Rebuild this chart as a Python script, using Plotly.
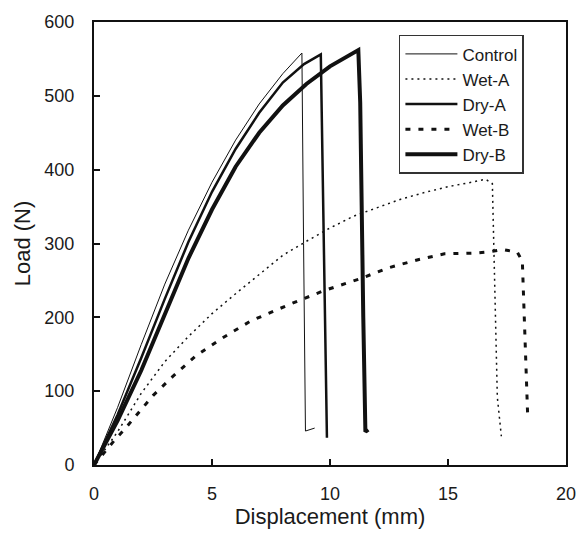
import plotly.graph_objects as go

# Displacement (mm) / Load (N)
control_x = [0, 1, 2, 3, 4, 5, 6, 7, 8, 8.81, 8.88, 8.96, 9.35]
control_y = [0, 78, 163, 245, 318, 383, 440, 489, 530, 558, 300, 46, 50]

weta_x = [0, 1, 2, 3, 4, 5, 6, 7, 8, 9, 10, 11, 12, 13, 14, 15, 16, 16.6, 16.88, 16.96, 17.03, 17.09, 17.26]
weta_y = [0, 45, 97, 140, 174, 205, 232, 258, 284, 303, 321, 337, 349, 360, 369, 377, 383, 387, 381, 276, 200, 92, 39]

drya_x = [0, 1, 2, 3, 4, 5, 6, 7, 8, 8.9, 9.61, 9.75, 9.87]
drya_y = [0, 68, 145, 225, 302, 370, 428, 477, 518, 543, 556, 300, 37]

wetb_x = [0, 0.88, 1.31, 2.08, 2.5, 3.34, 4.32, 5.44, 6.64, 8.32, 9.73, 11.34, 12.46, 13.73, 14.85, 16.11, 16.81, 17.31, 17.94, 18.15, 18.24, 18.38]
wetb_y = [0, 34, 49, 78, 94, 120, 148, 172, 195, 218, 236, 253, 267, 278, 286, 287, 289, 292, 288, 276, 182, 63]

dryb_x = [0, 1, 2, 3, 4, 5, 6, 7, 8, 9, 10, 11.2, 11.28, 11.41, 11.5, 11.62]
dryb_y = [0, 60, 128, 205, 280, 346, 404, 450, 487, 516, 540, 562, 491, 200, 45, 48]

series = [
    ("Control", control_x, control_y, dict(color="#111111", width=1)),
    ("Wet-A", weta_x, weta_y, dict(color="#111111", width=1.5, dash="2px,4px")),
    ("Dry-A", drya_x, drya_y, dict(color="#111111", width=2.5)),
    ("Wet-B", wetb_x, wetb_y, dict(color="#111111", width=3, dash="5px,8px")),
    ("Dry-B", dryb_x, dryb_y, dict(color="#111111", width=4)),
]

fig = go.Figure()
for name, xs, ys, line in series:
    fig.add_trace(go.Scatter(x=xs, y=ys, mode="lines", name=name, line=line))

font = dict(family="Liberation Sans, Arial, sans-serif", size=18, color="#1a1a1a")
legend_font = dict(family="Liberation Sans, Arial, sans-serif", size=17, color="#1a1a1a")

fig.update_layout(
    width=588, height=535,
    margin=dict(l=94, r=19, t=19, b=70),
    paper_bgcolor="white", plot_bgcolor="white",
    font=font,
    showlegend=True,
    legend=dict(
        x=0.646, y=0.971, xanchor="left", yanchor="top",
        bordercolor="#333333", borderwidth=1.5, bgcolor="white",
        itemwidth=52, font=legend_font,
    ),
)
fig.update_xaxes(
    range=[0, 20], tickvals=[0, 5, 10, 15, 20],
    ticks="inside", ticklen=6, tickwidth=1.5, tickcolor="#111111",
    ticklabelstandoff=11,
    showline=True, linecolor="#111111", linewidth=2, mirror=True,
    showgrid=False, zeroline=False,
    title=dict(text="Displacement (mm)", standoff=4),
)
fig.update_yaxes(
    range=[0, 600], tickvals=[0, 100, 200, 300, 400, 500, 600],
    ticks="inside", ticklen=6, tickwidth=1.5, tickcolor="#111111",
    ticklabelstandoff=14,
    showline=True, linecolor="#111111", linewidth=2, mirror=True,
    showgrid=False, zeroline=False,
    title=dict(text="Load (N)", standoff=8),
)

fig.write_html("out.html")
